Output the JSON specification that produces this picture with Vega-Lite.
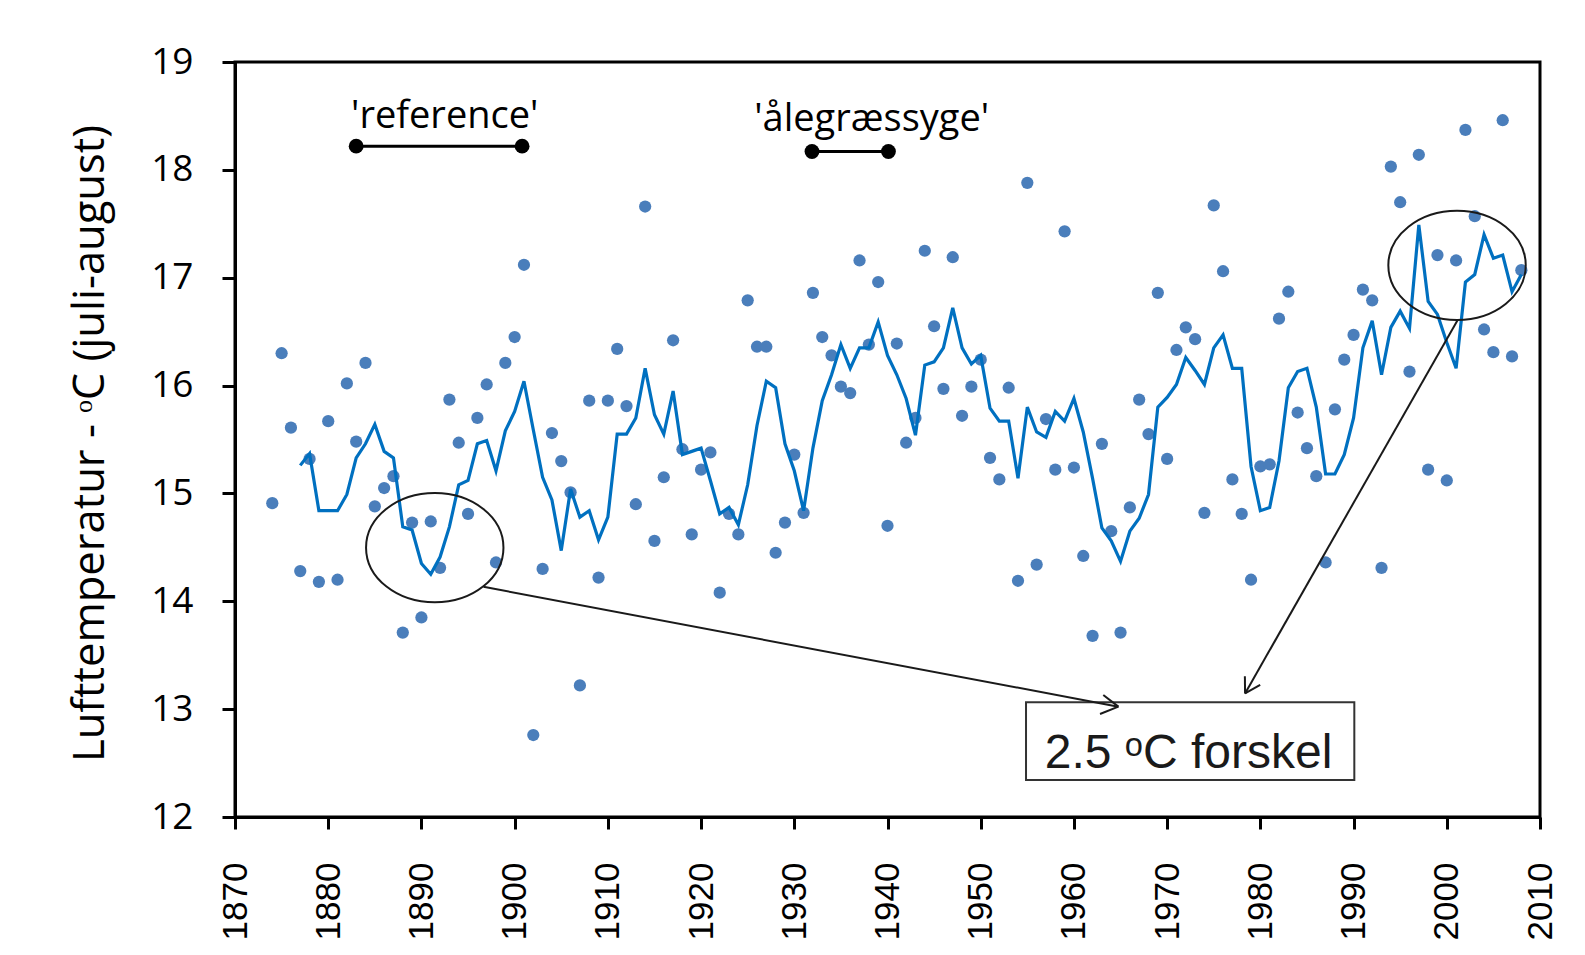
{
  "$schema": "https://vega.github.io/schema/vega-lite/v6.json",
  "autosize": {"type": "none"},
  "width": 1305,
  "height": 755,
  "padding": {"left": 235, "top": 62, "right": 45, "bottom": 138},
  "background": "white",
  "config": {
    "view": {"stroke": "black", "strokeWidth": 3},
    "axis": {"grid": false, "domainColor": "black", "domainWidth": 3, "tickColor": "black", "tickWidth": 3, "labelColor": "black", "titleColor": "black"}
  },
  "datasets": {
    "obs": [
      {"year": 1874, "temp": 14.91}, {"year": 1875, "temp": 16.30}, {"year": 1876, "temp": 15.61}, {"year": 1877, "temp": 14.28},
      {"year": 1878, "temp": 15.32}, {"year": 1879, "temp": 14.18}, {"year": 1880, "temp": 15.67}, {"year": 1881, "temp": 14.20},
      {"year": 1882, "temp": 16.02}, {"year": 1883, "temp": 15.48}, {"year": 1884, "temp": 16.21}, {"year": 1885, "temp": 14.88},
      {"year": 1886, "temp": 15.05}, {"year": 1887, "temp": 15.16}, {"year": 1888, "temp": 13.71}, {"year": 1889, "temp": 14.73},
      {"year": 1890, "temp": 13.85}, {"year": 1891, "temp": 14.74}, {"year": 1892, "temp": 14.31}, {"year": 1893, "temp": 15.87},
      {"year": 1894, "temp": 15.47}, {"year": 1895, "temp": 14.81}, {"year": 1896, "temp": 15.70}, {"year": 1897, "temp": 16.01},
      {"year": 1898, "temp": 14.36}, {"year": 1899, "temp": 16.21}, {"year": 1900, "temp": 16.45}, {"year": 1901, "temp": 17.12},
      {"year": 1902, "temp": 12.76}, {"year": 1903, "temp": 14.30}, {"year": 1904, "temp": 15.56}, {"year": 1905, "temp": 15.30},
      {"year": 1906, "temp": 15.01}, {"year": 1907, "temp": 13.22}, {"year": 1908, "temp": 15.86}, {"year": 1909, "temp": 14.22},
      {"year": 1910, "temp": 15.86}, {"year": 1911, "temp": 16.34}, {"year": 1912, "temp": 15.81}, {"year": 1913, "temp": 14.90},
      {"year": 1914, "temp": 17.66}, {"year": 1915, "temp": 14.56}, {"year": 1916, "temp": 15.15}, {"year": 1917, "temp": 16.42},
      {"year": 1918, "temp": 15.41}, {"year": 1919, "temp": 14.62}, {"year": 1920, "temp": 15.22}, {"year": 1921, "temp": 15.38},
      {"year": 1922, "temp": 14.08}, {"year": 1923, "temp": 14.81}, {"year": 1924, "temp": 14.62}, {"year": 1925, "temp": 16.79},
      {"year": 1926, "temp": 16.36}, {"year": 1927, "temp": 16.36}, {"year": 1928, "temp": 14.45}, {"year": 1929, "temp": 14.73},
      {"year": 1930, "temp": 15.36}, {"year": 1931, "temp": 14.82}, {"year": 1932, "temp": 16.86}, {"year": 1933, "temp": 16.45},
      {"year": 1934, "temp": 16.28}, {"year": 1935, "temp": 15.99}, {"year": 1936, "temp": 15.93}, {"year": 1937, "temp": 17.16},
      {"year": 1938, "temp": 16.38}, {"year": 1939, "temp": 16.96}, {"year": 1940, "temp": 14.70}, {"year": 1941, "temp": 16.39},
      {"year": 1942, "temp": 15.47}, {"year": 1943, "temp": 15.70}, {"year": 1944, "temp": 17.25}, {"year": 1945, "temp": 16.55},
      {"year": 1946, "temp": 15.97}, {"year": 1947, "temp": 17.19}, {"year": 1948, "temp": 15.72}, {"year": 1949, "temp": 15.99},
      {"year": 1950, "temp": 16.24}, {"year": 1951, "temp": 15.33}, {"year": 1952, "temp": 15.13}, {"year": 1953, "temp": 15.98},
      {"year": 1954, "temp": 14.19}, {"year": 1955, "temp": 17.88}, {"year": 1956, "temp": 14.34}, {"year": 1957, "temp": 15.69},
      {"year": 1958, "temp": 15.22}, {"year": 1959, "temp": 17.43}, {"year": 1960, "temp": 15.24}, {"year": 1961, "temp": 14.42},
      {"year": 1962, "temp": 13.68}, {"year": 1963, "temp": 15.46}, {"year": 1964, "temp": 14.65}, {"year": 1965, "temp": 13.71},
      {"year": 1966, "temp": 14.87}, {"year": 1967, "temp": 15.87}, {"year": 1968, "temp": 15.55}, {"year": 1969, "temp": 16.86},
      {"year": 1970, "temp": 15.32}, {"year": 1971, "temp": 16.33}, {"year": 1972, "temp": 16.54}, {"year": 1973, "temp": 16.43},
      {"year": 1974, "temp": 14.82}, {"year": 1975, "temp": 17.67}, {"year": 1976, "temp": 17.06}, {"year": 1977, "temp": 15.13},
      {"year": 1978, "temp": 14.81}, {"year": 1979, "temp": 14.20}, {"year": 1980, "temp": 15.25}, {"year": 1981, "temp": 15.27},
      {"year": 1982, "temp": 16.62}, {"year": 1983, "temp": 16.87}, {"year": 1984, "temp": 15.75}, {"year": 1985, "temp": 15.42},
      {"year": 1986, "temp": 15.16}, {"year": 1987, "temp": 14.36}, {"year": 1988, "temp": 15.78}, {"year": 1989, "temp": 16.24},
      {"year": 1990, "temp": 16.47}, {"year": 1991, "temp": 16.89}, {"year": 1992, "temp": 16.79}, {"year": 1993, "temp": 14.31},
      {"year": 1994, "temp": 18.03}, {"year": 1995, "temp": 17.70}, {"year": 1996, "temp": 16.13}, {"year": 1997, "temp": 18.14},
      {"year": 1998, "temp": 15.22}, {"year": 1999, "temp": 17.21}, {"year": 2000, "temp": 15.12}, {"year": 2001, "temp": 17.16},
      {"year": 2002, "temp": 18.37}, {"year": 2003, "temp": 17.57}, {"year": 2004, "temp": 16.52}, {"year": 2005, "temp": 16.31},
      {"year": 2006, "temp": 18.46}, {"year": 2007, "temp": 16.27}, {"year": 2008, "temp": 17.07}
    ],
    "avg": [
      {"year": 1877, "temp": 15.26}, {"year": 1878, "temp": 15.37}, {"year": 1879, "temp": 14.84}, {"year": 1880, "temp": 14.84},
      {"year": 1881, "temp": 14.84}, {"year": 1882, "temp": 14.99}, {"year": 1883, "temp": 15.33}, {"year": 1884, "temp": 15.46},
      {"year": 1885, "temp": 15.64}, {"year": 1886, "temp": 15.39}, {"year": 1887, "temp": 15.33}, {"year": 1888, "temp": 14.69},
      {"year": 1889, "temp": 14.66}, {"year": 1890, "temp": 14.35}, {"year": 1891, "temp": 14.25}, {"year": 1892, "temp": 14.41},
      {"year": 1893, "temp": 14.69}, {"year": 1894, "temp": 15.08}, {"year": 1895, "temp": 15.12}, {"year": 1896, "temp": 15.46},
      {"year": 1897, "temp": 15.49}, {"year": 1898, "temp": 15.21}, {"year": 1899, "temp": 15.58}, {"year": 1900, "temp": 15.76},
      {"year": 1901, "temp": 16.04}, {"year": 1902, "temp": 15.59}, {"year": 1903, "temp": 15.15}, {"year": 1904, "temp": 14.94},
      {"year": 1905, "temp": 14.47}, {"year": 1906, "temp": 15.04}, {"year": 1907, "temp": 14.78}, {"year": 1908, "temp": 14.84},
      {"year": 1909, "temp": 14.57}, {"year": 1910, "temp": 14.78}, {"year": 1911, "temp": 15.55}, {"year": 1912, "temp": 15.55},
      {"year": 1913, "temp": 15.70}, {"year": 1914, "temp": 16.16}, {"year": 1915, "temp": 15.73}, {"year": 1916, "temp": 15.55},
      {"year": 1917, "temp": 15.95}, {"year": 1918, "temp": 15.36}, {"year": 1919, "temp": 15.39}, {"year": 1920, "temp": 15.42},
      {"year": 1921, "temp": 15.12}, {"year": 1922, "temp": 14.81}, {"year": 1923, "temp": 14.87}, {"year": 1924, "temp": 14.71},
      {"year": 1925, "temp": 15.08}, {"year": 1926, "temp": 15.63}, {"year": 1927, "temp": 16.04}, {"year": 1928, "temp": 15.98},
      {"year": 1929, "temp": 15.46}, {"year": 1930, "temp": 15.21}, {"year": 1931, "temp": 14.84}, {"year": 1932, "temp": 15.42},
      {"year": 1933, "temp": 15.86}, {"year": 1934, "temp": 16.10}, {"year": 1935, "temp": 16.38}, {"year": 1936, "temp": 16.16},
      {"year": 1937, "temp": 16.35}, {"year": 1938, "temp": 16.35}, {"year": 1939, "temp": 16.59}, {"year": 1940, "temp": 16.28},
      {"year": 1941, "temp": 16.10}, {"year": 1942, "temp": 15.88}, {"year": 1943, "temp": 15.54}, {"year": 1944, "temp": 16.19},
      {"year": 1945, "temp": 16.22}, {"year": 1946, "temp": 16.35}, {"year": 1947, "temp": 16.72}, {"year": 1948, "temp": 16.35},
      {"year": 1949, "temp": 16.20}, {"year": 1950, "temp": 16.28}, {"year": 1951, "temp": 15.79}, {"year": 1952, "temp": 15.67},
      {"year": 1953, "temp": 15.67}, {"year": 1954, "temp": 15.14}, {"year": 1955, "temp": 15.80}, {"year": 1956, "temp": 15.57},
      {"year": 1957, "temp": 15.52}, {"year": 1958, "temp": 15.76}, {"year": 1959, "temp": 15.67}, {"year": 1960, "temp": 15.88},
      {"year": 1961, "temp": 15.57}, {"year": 1962, "temp": 15.14}, {"year": 1963, "temp": 14.68}, {"year": 1964, "temp": 14.56},
      {"year": 1965, "temp": 14.37}, {"year": 1966, "temp": 14.65}, {"year": 1967, "temp": 14.77}, {"year": 1968, "temp": 14.99},
      {"year": 1969, "temp": 15.80}, {"year": 1970, "temp": 15.89}, {"year": 1971, "temp": 16.01}, {"year": 1972, "temp": 16.26},
      {"year": 1973, "temp": 16.14}, {"year": 1974, "temp": 16.01}, {"year": 1975, "temp": 16.35}, {"year": 1976, "temp": 16.47},
      {"year": 1977, "temp": 16.16}, {"year": 1978, "temp": 16.16}, {"year": 1979, "temp": 15.25}, {"year": 1980, "temp": 14.84},
      {"year": 1981, "temp": 14.87}, {"year": 1982, "temp": 15.30}, {"year": 1983, "temp": 15.98}, {"year": 1984, "temp": 16.13},
      {"year": 1985, "temp": 16.16}, {"year": 1986, "temp": 15.80}, {"year": 1987, "temp": 15.18}, {"year": 1988, "temp": 15.18},
      {"year": 1989, "temp": 15.36}, {"year": 1990, "temp": 15.70}, {"year": 1991, "temp": 16.35}, {"year": 1992, "temp": 16.60},
      {"year": 1993, "temp": 16.10}, {"year": 1994, "temp": 16.54}, {"year": 1995, "temp": 16.69}, {"year": 1996, "temp": 16.53},
      {"year": 1997, "temp": 17.49}, {"year": 1998, "temp": 16.78}, {"year": 1999, "temp": 16.66}, {"year": 2000, "temp": 16.40},
      {"year": 2001, "temp": 16.16}, {"year": 2002, "temp": 16.96}, {"year": 2003, "temp": 17.03}, {"year": 2004, "temp": 17.40},
      {"year": 2005, "temp": 17.18}, {"year": 2006, "temp": 17.21}, {"year": 2007, "temp": 16.87}, {"year": 2008, "temp": 17.03}
    ],
    "periods": [
      {"label": "'reference'", "start": 1883.0, "end": 1900.8, "temp": 18.22, "labelYear": 1892.5, "labelTemp": 18.39},
      {"label": "'ålegræssyge'", "start": 1931.9, "end": 1940.1, "temp": 18.17, "labelYear": 1938.3, "labelTemp": 18.36}
    ],
    "periodEnds": [
      {"year": 1883.0, "temp": 18.22}, {"year": 1900.8, "temp": 18.22},
      {"year": 1931.9, "temp": 18.17}, {"year": 1940.1, "temp": 18.17}
    ],
    "ellipses": [
      {"year": 1891.43, "temp": 14.497},
      {"year": 2001.1, "temp": 17.115}
    ],
    "arrows": [
      {"x": 1896.66, "y": 14.134, "x2": 1964.77, "y2": 13.023},
      {"x": 1964.77, "y": 13.023, "x2": 1963.15, "y2": 13.131},
      {"x": 1964.77, "y": 13.023, "x2": 1962.8, "y2": 12.955},
      {"x": 2001.17, "y": 16.608, "x2": 1978.36, "y2": 13.146},
      {"x": 1978.36, "y": 13.146, "x2": 1979.98, "y2": 13.226},
      {"x": 1978.36, "y": 13.146, "x2": 1978.34, "y2": 13.304}
    ],
    "box": [
      {"x": 1954.86, "x2": 1990.08, "y": 13.063, "y2": 12.343, "label": "2.5 ᵒC forskel", "tx": 1972.3, "ty": 12.455}
    ]
  },
  "layer": [
    {
      "data": {"name": "obs"},
      "mark": {"type": "point", "shape": "circle", "filled": true, "size": 150, "opacity": 1, "color": "#4a7ebb"},
      "encoding": {
        "x": {"field": "year", "type": "quantitative",
          "scale": {"domain": [1870, 2010], "nice": false, "zero": false},
          "axis": {"values": [1870, 1880, 1890, 1900, 1910, 1920, 1930, 1940, 1950, 1960, 1970, 1980, 1990, 2000, 2010],
            "format": "d", "title": null, "labelAngle": -90, "labelFont": "Liberation Sans", "labelFontSize": 35,
            "labelPadding": 33, "tickSize": 12, "labelAlign": "right", "labelBaseline": "middle"}},
        "y": {"field": "temp", "type": "quantitative",
          "scale": {"domain": [12, 19], "nice": false, "zero": false},
          "axis": {"values": [12, 13, 14, 15, 16, 17, 18, 19], "format": "d",
            "title": "Lufttemperatur - ᵒC (juli-august)", "titleFont": "Open Sans", "titleFontSize": 43.5, "titleFontWeight": "normal",
            "titleAngle": -90, "titleX": -132, "titleY": 381, "titleAlign": "center", "titleBaseline": "alphabetic",
            "labelFont": "Open Sans", "labelFontSize": 37, "labelPadding": 29, "tickSize": 13}}
      }
    },
    {
      "data": {"name": "avg"},
      "mark": {"type": "line", "color": "#0070c0", "strokeWidth": 3.2},
      "encoding": {
        "x": {"field": "year", "type": "quantitative"},
        "y": {"field": "temp", "type": "quantitative"}
      }
    },
    {
      "data": {"name": "periods"},
      "mark": {"type": "rule", "color": "black", "strokeWidth": 3},
      "encoding": {
        "x": {"field": "start", "type": "quantitative"},
        "x2": {"field": "end"},
        "y": {"field": "temp", "type": "quantitative"}
      }
    },
    {
      "data": {"name": "periodEnds"},
      "mark": {"type": "point", "shape": "circle", "filled": true, "size": 220, "opacity": 1, "color": "black"},
      "encoding": {
        "x": {"field": "year", "type": "quantitative"},
        "y": {"field": "temp", "type": "quantitative"}
      }
    },
    {
      "data": {"name": "periods"},
      "mark": {"type": "text", "font": "Open Sans", "fontSize": 38, "color": "black", "align": "center", "baseline": "alphabetic"},
      "encoding": {
        "x": {"field": "labelYear", "type": "quantitative"},
        "y": {"field": "labelTemp", "type": "quantitative"},
        "text": {"field": "label"}
      }
    },
    {
      "data": {"name": "ellipses"},
      "mark": {"type": "point", "shape": "M -1 0 A 1 0.795 0 1 1 1 0 A 1 0.795 0 1 1 -1 0 Z", "filled": false, "size": 18880, "strokeWidth": 2, "color": "#1a1a1a", "opacity": 1},
      "encoding": {
        "x": {"field": "year", "type": "quantitative"},
        "y": {"field": "temp", "type": "quantitative"}
      }
    },
    {
      "data": {"name": "box"},
      "mark": {"type": "rect", "fill": "white", "stroke": "#333333", "strokeWidth": 2},
      "encoding": {
        "x": {"field": "x", "type": "quantitative"},
        "x2": {"field": "x2"},
        "y": {"field": "y", "type": "quantitative"},
        "y2": {"field": "y2"}
      }
    },
    {
      "data": {"name": "arrows"},
      "mark": {"type": "rule", "color": "#1a1a1a", "strokeWidth": 2},
      "encoding": {
        "x": {"field": "x", "type": "quantitative"},
        "y": {"field": "y", "type": "quantitative"},
        "x2": {"field": "x2"},
        "y2": {"field": "y2"}
      }
    },
    {
      "data": {"name": "box"},
      "mark": {"type": "text", "font": "Liberation Sans", "fontSize": 48, "color": "#1a1a1a", "align": "center", "baseline": "alphabetic"},
      "encoding": {
        "x": {"field": "tx", "type": "quantitative"},
        "y": {"field": "ty", "type": "quantitative"},
        "text": {"field": "label"}
      }
    }
  ]
}
